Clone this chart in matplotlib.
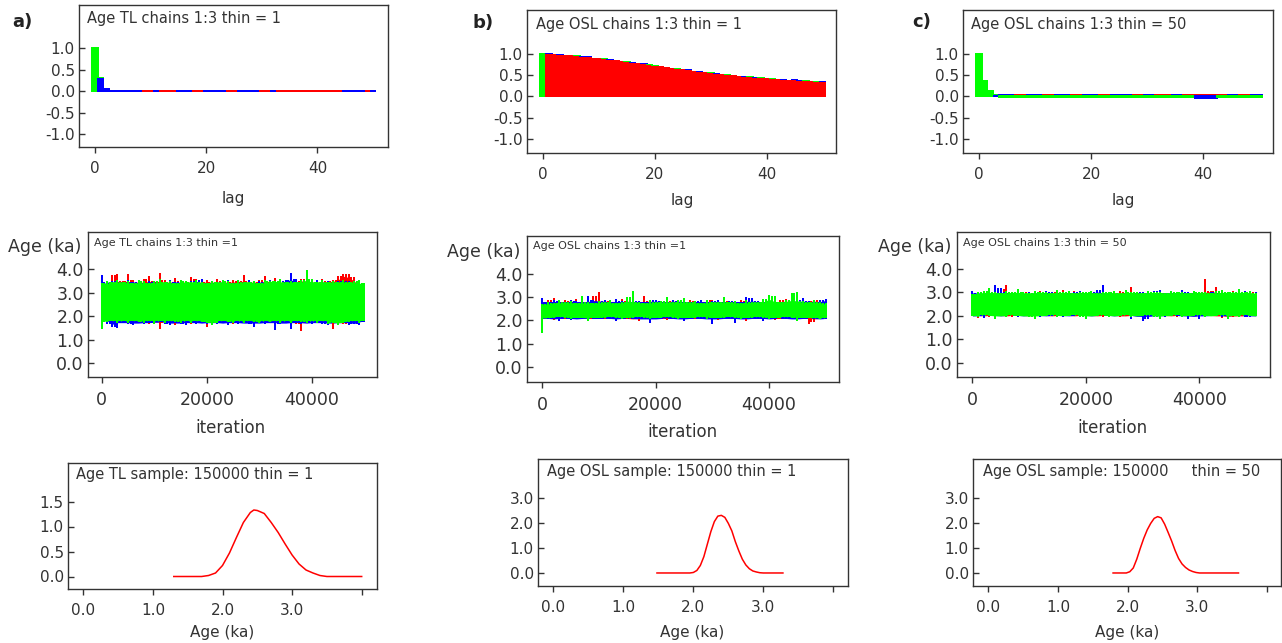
import numpy as np
import matplotlib
matplotlib.use("Agg")
import matplotlib.pyplot as plt

plt.rcParams['font.family'] = 'DejaVu Sans'

W, H = 1282, 643
RED, BLUE, GREEN = "#FF0000", "#0000FF", "#00FF00"
INK = "#333333"

# ── autocorrelation (lags 0..50) ─────────────────────────────────────────────
LAGS = list(range(51))

ACF_A_RED = ([1.0, 0.29, 0.045] + [0.0] * 6 + [-0.01] * 2 + [0.0] + [-0.01] * 3
             + [0.0] * 3 + [-0.01] * 2 + [0.0] * 4 + [-0.01] * 2 + [0.0] * 4
             + [-0.01] * 2 + [0.0] + [-0.01] * 12 + [0.0] * 4 + [-0.01] + [0.0])
ACF_A_BLUE = ([1.0, 0.27, 0.04] + [-0.01] * 6 + [0.0] * 2 + [-0.01] + [0.0] * 3
              + [-0.01] * 3 + [0.0] * 2 + [-0.01] * 4 + [0.0] * 2 + [-0.01] * 4
              + [0.0] * 2 + [-0.01] + [0.0] * 12 + [-0.01] * 4 + [0.0] + [-0.01])
ACF_A_GREEN = [1.0, 0.30, 0.05] + [0.003] * 48

ACF_B_RED = [1.0, 0.98, 0.97, 0.96, 0.95, 0.94, 0.93, 0.91, 0.90, 0.88, 0.87,
             0.85, 0.84, 0.82, 0.81, 0.79, 0.77, 0.75, 0.73, 0.71, 0.69,
             0.68, 0.66, 0.64, 0.62, 0.61, 0.59, 0.57, 0.56, 0.54, 0.53,
             0.51, 0.50, 0.48, 0.47, 0.45, 0.44, 0.43, 0.42, 0.41, 0.40,
             0.39, 0.38, 0.37, 0.36, 0.36, 0.35, 0.34, 0.33, 0.32, 0.31]
ACF_B_BLUE = [1.0, 0.985, 0.975, 0.965, 0.955, 0.945, 0.935, 0.915, 0.92, 0.885, 0.875,
              0.855, 0.845, 0.84, 0.815, 0.795, 0.775, 0.755, 0.75, 0.715, 0.695,
              0.685, 0.665, 0.645, 0.625, 0.615, 0.61, 0.575, 0.565, 0.545, 0.535,
              0.515, 0.505, 0.485, 0.475, 0.455, 0.445, 0.435, 0.425, 0.415, 0.405,
              0.41, 0.385, 0.375, 0.365, 0.38, 0.355, 0.345, 0.335, 0.325, 0.33]
ACF_B_GREEN = [1.0, 0.988, 0.978, 0.968, 0.958, 0.948, 0.938, 0.918, 0.908, 0.888, 0.89,
               0.87, 0.848, 0.828, 0.818, 0.81, 0.79, 0.758, 0.738, 0.73, 0.71,
               0.688, 0.668, 0.648, 0.64, 0.63, 0.598, 0.578, 0.58, 0.56, 0.55,
               0.518, 0.508, 0.50, 0.49, 0.458, 0.46, 0.45, 0.44, 0.43, 0.408,
               0.398, 0.388, 0.378, 0.368, 0.368, 0.37, 0.36, 0.35, 0.328, 0.318]

ACF_C_GREEN = [1.0, 0.37, 0.12, 0.022] + [-0.02] * 47
ACF_C_BLUE = ([1.0, 0.37, 0.12, 0.02] + [0.035] * 3 + [0.04] * 2 + [0.035] * 3
              + [0.04] * 2 + [0.035] * 3 + [0.04] * 2 + [0.035] * 3 + [0.04] * 2
              + [0.035] * 4 + [0.04] * 2 + [0.035] * 2 + [0.04] * 3 + [0.035] * 2
              + [0.04] * 2 + [-0.03] * 4 + [0.04] * 2 + [0.035] * 2 + [0.04] * 2
              + [0.035] * 2)
ACF_C_RED = ([1.0, 0.37, 0.12, 0.024] + [0.04] * 3 + [0.035] * 2 + [0.04] * 3
             + [0.035] * 2 + [0.04] * 3 + [0.035] * 2 + [0.04] * 3 + [0.035] * 2
             + [0.04] * 4 + [0.035] * 2 + [0.04] * 2 + [0.035] * 3 + [0.04] * 2
             + [0.035] * 2 + [0.04] * 4 + [0.035] * 2 + [0.04] * 2 + [0.035] * 2
             + [0.04] * 2)

# ── trace envelopes, sampled every 1000 iterations (0..50000) ────────────────
ITER = [k * 1000 for k in range(51)]

TR_A_G_UP = [3.40, 3.50, 3.45, 3.52, 3.45, 3.50, 3.42, 3.52, 3.48, 3.42,
             3.50, 3.60, 3.45, 3.50, 3.42, 3.52, 3.48, 3.45, 3.52, 3.46,
             3.42, 3.50, 3.45, 3.52, 3.48, 3.42, 3.52, 3.46, 3.45, 3.50,
             3.42, 3.52, 3.48, 3.50, 3.58, 3.45, 3.50, 3.46, 3.52, 3.95,
             3.58, 3.46, 3.52, 3.45, 3.50, 3.46, 3.52, 3.45, 3.48, 3.52, 3.40]
TR_A_G_LO = [1.45, 1.75, 1.80, 1.72, 1.78, 1.70, 1.80, 1.75, 1.72, 1.80,
             1.68, 1.78, 1.72, 1.80, 1.75, 1.70, 1.78, 1.72, 1.80, 1.75,
             1.72, 1.62, 1.70, 1.80, 1.75, 1.72, 1.78, 1.70, 1.80, 1.75,
             1.72, 1.78, 1.75, 1.80, 1.70, 1.78, 1.72, 1.80, 1.75, 1.70,
             1.78, 1.72, 1.80, 1.66, 1.72, 1.60, 1.70, 1.75, 1.80, 1.72, 1.78]
TR_A_R_UP = [3.30, 3.45, 3.75, 3.80, 3.48, 3.80, 3.55, 3.45, 3.58, 3.70,
             3.48, 3.85, 3.55, 3.45, 3.62, 3.50, 3.45, 3.65, 3.60, 3.45,
             3.55, 3.45, 3.58, 3.50, 3.45, 3.55, 3.48, 3.75, 3.50, 3.45,
             3.55, 3.70, 3.48, 3.62, 3.45, 3.55, 3.45, 3.50, 3.58, 3.75,
             3.50, 3.45, 3.58, 3.48, 3.55, 3.70, 3.78, 3.80, 3.65, 3.50, 3.30]
TR_A_R_LO = [1.85, 1.72, 1.80, 1.68, 1.75, 1.65, 1.78, 1.70, 1.75, 1.68,
             1.75, 1.45, 1.70, 1.78, 1.60, 1.72, 1.80, 1.68, 1.75, 1.70,
             1.55, 1.75, 1.68, 1.78, 1.72, 1.66, 1.75, 1.70, 1.78, 1.68,
             1.75, 1.70, 1.78, 1.66, 1.75, 1.70, 1.78, 1.68, 1.35, 1.72,
             1.68, 1.78, 1.70, 1.75, 1.45, 1.72, 1.68, 1.60, 1.75, 1.70, 1.78]
TR_A_B_UP = [3.75, 3.45, 3.50, 3.55, 3.45, 3.52, 3.45, 3.50, 3.42, 3.48,
             3.45, 3.50, 3.42, 3.52, 3.45, 3.50, 3.42, 3.48, 3.52, 3.58,
             3.42, 3.50, 3.45, 3.48, 3.52, 3.42, 3.50, 3.45, 3.52, 3.42,
             3.50, 3.45, 3.52, 3.42, 3.50, 3.55, 3.85, 3.60, 3.45, 3.50,
             3.42, 3.52, 3.45, 3.50, 3.42, 3.48, 3.52, 3.50, 3.42, 3.55, 3.35]
TR_A_B_LO = [1.80, 1.65, 1.55, 1.50, 1.72, 1.66, 1.60, 1.70, 1.65, 1.72,
             1.66, 1.74, 1.68, 1.62, 1.70, 1.66, 1.60, 1.72, 1.66, 1.70,
             1.65, 1.72, 1.66, 1.70, 1.60, 1.72, 1.66, 1.70, 1.68, 1.55,
             1.70, 1.66, 1.72, 1.40, 1.68, 1.70, 1.45, 1.72, 1.66, 1.70,
             1.66, 1.72, 1.68, 1.60, 1.70, 1.66, 1.72, 1.60, 1.68, 1.62, 1.75]

TR_B_G_UP = [2.70, 2.80, 2.75, 2.85, 2.78, 2.82, 2.75, 3.05, 2.80, 2.75,
             2.82, 2.78, 2.85, 2.75, 2.80, 3.00, 3.24, 2.80, 2.75, 2.85,
             2.78, 2.82, 3.00, 2.78, 2.85, 2.95, 2.78, 2.82, 2.75, 2.85,
             2.78, 2.80, 3.00, 2.78, 2.82, 2.75, 2.85, 2.80, 2.78, 2.90,
             3.10, 3.05, 2.80, 2.85, 3.15, 3.20, 2.82, 2.78, 2.85, 2.80, 2.75]
TR_B_G_LO = [1.45, 2.10, 2.08, 2.15, 2.10, 2.05, 2.12, 2.08, 1.95, 2.10,
             2.12, 2.08, 2.15, 2.10, 2.05, 2.12, 2.08, 2.15, 2.10, 2.05,
             2.12, 2.08, 2.15, 2.10, 2.05, 2.12, 2.08, 2.10, 2.15, 2.05,
             2.10, 2.12, 2.08, 2.15, 2.10, 2.05, 2.12, 2.08, 2.15, 2.10,
             2.05, 2.12, 2.08, 2.15, 2.10, 1.98, 2.12, 2.08, 2.10, 2.05, 2.10]
TR_B_R_UP = [2.80, 2.85, 2.95, 2.80, 2.88, 2.82, 2.90, 2.80, 2.85, 3.05,
             3.22, 2.82, 2.88, 2.80, 2.90, 2.82, 2.85, 2.80, 3.05, 2.82,
             2.85, 2.80, 2.90, 2.82, 2.85, 2.80, 2.86, 2.82, 2.80, 2.85,
             2.88, 2.80, 2.85, 2.82, 2.80, 2.86, 2.82, 2.95, 2.80, 2.85,
             2.82, 2.80, 2.86, 2.90, 2.82, 2.80, 2.85, 2.82, 2.85, 2.85, 2.80]
TR_B_R_LO = [2.10, 2.05, 2.00, 2.08, 2.04, 2.10, 2.05, 2.08, 2.02, 2.06,
             2.08, 2.04, 2.10, 2.05, 2.08, 2.04, 2.06, 1.98, 2.08, 2.05,
             2.10, 2.04, 2.00, 2.08, 2.05, 2.06, 2.10, 2.04, 2.08, 2.05,
             2.08, 2.02, 2.06, 2.10, 2.04, 2.08, 1.95, 2.06, 2.08, 2.04,
             2.10, 2.00, 2.06, 2.08, 2.04, 2.06, 2.08, 1.85, 1.92, 2.06, 2.08]
TR_B_B_UP = [2.95, 2.80, 2.85, 2.82, 2.80, 2.86, 2.82, 2.80, 3.05, 2.85,
             2.82, 2.86, 2.80, 2.92, 2.84, 2.80, 2.86, 2.82, 2.80, 2.85,
             2.88, 2.82, 2.80, 2.86, 2.82, 2.95, 2.80, 2.84, 2.85, 2.80,
             2.82, 2.86, 2.80, 2.84, 2.82, 2.80, 3.00, 2.95, 2.82, 2.80,
             2.86, 2.82, 2.80, 2.84, 2.82, 2.86, 2.95, 2.82, 2.80, 2.85, 2.90]
TR_B_B_LO = [2.08, 2.04, 2.06, 1.95, 2.08, 2.00, 2.06, 2.04, 2.08, 2.05,
             2.06, 2.08, 2.04, 1.95, 2.06, 2.08, 2.04, 2.06, 2.05, 1.90,
             2.06, 2.04, 2.08, 2.05, 2.06, 1.95, 2.04, 2.08, 2.05, 2.06,
             1.85, 2.04, 2.06, 2.08, 1.90, 2.05, 2.06, 2.04, 2.08, 1.98,
             2.06, 2.04, 2.08, 2.05, 2.06, 2.00, 2.04, 2.08, 2.06, 2.04, 2.05]

TR_C_G_UP = [2.95, 3.00, 3.05, 3.20, 3.00, 2.98, 3.05, 3.00, 3.15, 3.02,
             2.98, 3.04, 3.00, 3.02, 2.98, 3.10, 3.00, 3.04, 2.98, 3.02,
             3.00, 3.05, 2.98, 3.02, 3.00, 3.04, 2.98, 3.12, 3.00, 3.02,
             2.98, 3.04, 3.00, 3.02, 2.98, 3.05, 3.00, 3.02, 2.98, 3.04,
             3.00, 3.02, 2.98, 3.04, 3.10, 3.00, 3.02, 3.15, 3.00, 3.04, 2.98]
TR_C_G_LO = [2.00, 1.97, 2.02, 1.98, 1.88, 2.00, 1.97, 2.02, 1.98, 2.00,
             1.97, 1.88, 2.00, 1.98, 2.02, 1.97, 2.00, 1.98, 2.02, 1.97,
             1.88, 2.00, 1.98, 2.02, 1.97, 2.00, 1.98, 2.02, 1.97, 2.00,
             1.98, 2.02, 1.97, 1.88, 2.00, 1.98, 2.02, 1.97, 2.00, 1.98,
             2.02, 1.97, 2.00, 1.98, 2.02, 1.88, 2.00, 1.97, 2.02, 1.98, 2.00]
TR_C_R_UP = [2.95, 3.00, 2.96, 3.02, 2.98, 3.15, 3.30, 3.00, 2.96, 3.02,
             3.00, 2.96, 3.05, 2.98, 3.00, 3.02, 3.10, 2.98, 3.04, 3.00,
             2.98, 3.05, 3.00, 2.96, 3.02, 2.98, 3.04, 3.00, 3.25, 2.98,
             3.02, 2.96, 3.04, 3.00, 2.98, 3.02, 2.96, 3.04, 2.98, 3.02,
             3.00, 3.55, 3.04, 3.25, 3.00, 2.98, 3.04, 3.00, 2.98, 3.05, 3.00]
TR_C_R_LO = [2.02, 1.90, 2.00, 1.97, 2.02, 1.98, 2.00, 1.96, 2.02, 1.98,
             2.00, 1.97, 2.02, 1.98, 2.00, 1.96, 2.02, 1.98, 2.00, 1.97,
             2.02, 1.98, 2.00, 1.96, 2.02, 1.98, 1.94, 2.00, 1.97, 2.02,
             1.98, 2.00, 1.96, 2.02, 1.98, 2.00, 1.97, 2.02, 1.98, 2.00,
             1.96, 2.02, 1.98, 2.00, 1.90, 1.98, 1.94, 2.00, 1.96, 1.98, 2.02]
TR_C_B_UP = [3.05, 2.98, 3.02, 2.96, 3.30, 3.20, 3.00, 2.98, 3.02, 2.96,
             3.02, 2.98, 3.00, 3.04, 3.00, 2.96, 3.02, 2.98, 3.00, 3.04,
             2.98, 3.02, 3.10, 3.30, 2.98, 3.02, 2.96, 3.04, 2.98, 3.00,
             3.02, 2.98, 3.04, 3.10, 2.98, 3.02, 3.00, 3.10, 3.02, 2.98,
             3.02, 2.96, 3.00, 3.04, 2.98, 3.02, 3.00, 2.98, 3.04, 2.95, 3.00]
TR_C_B_LO = [1.98, 2.00, 1.90, 2.02, 1.96, 2.00, 1.98, 2.02, 1.97, 2.00,
             1.98, 2.02, 1.94, 2.00, 1.98, 2.02, 1.97, 2.00, 1.98, 2.02,
             1.97, 2.00, 1.98, 2.02, 1.94, 2.00, 1.98, 2.02, 1.85, 1.98,
             1.80, 1.85, 1.98, 2.00, 1.97, 2.02, 1.98, 2.00, 1.85, 1.98,
             1.85, 2.00, 1.98, 2.02, 1.97, 2.00, 1.98, 2.02, 1.97, 1.95, 2.00]

# ── posterior densities ──────────────────────────────────────────────────────
DENS_A_X = [1.30, 1.70, 1.80, 1.90, 2.00, 2.10, 2.20, 2.30, 2.40, 2.45, 2.50,
            2.60, 2.70, 2.80, 2.90, 3.00, 3.10, 3.20, 3.30, 3.40, 3.50, 4.00]
DENS_A_Y = [0.0, 0.0, 0.02, 0.07, 0.22, 0.47, 0.78, 1.08, 1.28, 1.33, 1.32,
            1.26, 1.08, 0.88, 0.65, 0.43, 0.25, 0.13, 0.07, 0.02, 0.0, 0.0]
DENS_B_X = [1.48, 1.95, 2.00, 2.05, 2.10, 2.15, 2.20, 2.25, 2.30, 2.35, 2.40, 2.45,
            2.50, 2.55, 2.60, 2.65, 2.70, 2.75, 2.80, 2.85, 2.90, 2.95, 3.00, 3.28]
DENS_B_Y = [0.0, 0.0, 0.02, 0.10, 0.30, 0.65, 1.15, 1.65, 2.05, 2.27, 2.30, 2.22,
            1.98, 1.68, 1.25, 0.88, 0.55, 0.32, 0.17, 0.08, 0.04, 0.01, 0.0, 0.0]
DENS_C_X = [1.79, 1.98, 2.03, 2.08, 2.13, 2.18, 2.23, 2.28, 2.33, 2.38, 2.43, 2.48,
            2.53, 2.58, 2.63, 2.68, 2.73, 2.78, 2.83, 2.88, 2.93, 2.98, 3.03, 3.59]
DENS_C_Y = [0.0, 0.0, 0.05, 0.20, 0.55, 0.98, 1.38, 1.72, 1.98, 2.18, 2.25, 2.20,
            1.95, 1.62, 1.28, 0.90, 0.58, 0.36, 0.22, 0.12, 0.06, 0.02, 0.0, 0.0]


fig = plt.figure(figsize=(W / 100, H / 100), dpi=100)
fig.patch.set_facecolor("white")


def px_axes(x0, y0, x1, y1):
    return fig.add_axes([x0 / W, 1 - y1 / H, (x1 - x0) / W, (y1 - y0) / H])


def px_text(x, y, s, **kw):
    kw.setdefault("color", INK)
    fig.text(x / W, 1 - y / H, s, **kw)


def style(ax, size=11):
    for sp in ax.spines.values():
        sp.set_color(INK)
        sp.set_linewidth(1.0)
    ax.tick_params(axis="y", direction="in", length=4.5, width=1, color=INK,
                   labelcolor=INK, labelsize=size, pad=3)
    ax.tick_params(axis="x", direction="out", length=4, width=1, color=INK,
                   labelcolor=INK, labelsize=size, pad=6)


def set_ticks(ax, xt, xl, yt, yl):
    ax.set_xticks(xt)
    ax.set_xticklabels(xl)
    ax.set_yticks(yt)
    ax.set_yticklabels(yl)


def draw_acf(ax, red, blue, green):
    chains = [(red, RED), (blue, BLUE), (green, GREEN)]
    for k, lag in enumerate(LAGS):
        # tallest bar first so every chain's excess stays visible
        order = sorted(range(3), key=lambda c: -chains[c][0][k])
        for c in order:
            vals, col = chains[c]
            ax.bar(lag, vals[k], width=1.0, color=col, edgecolor=col,
                   linewidth=1.2, antialiased=False)


def draw_trace(ax, env):
    x = np.array(ITER)
    for lo, hi, col in env:
        lo, hi = np.array(lo), np.array(hi)
        # solid core of the chain, then each sample's excursion as a thin spike
        core_hi = np.minimum(hi, np.minimum(np.roll(hi, 1), np.roll(hi, -1)))
        core_lo = np.maximum(lo, np.maximum(np.roll(lo, 1), np.roll(lo, -1)))
        ax.fill_between(x, core_lo, core_hi, color=col, linewidth=0)
        ax.vlines(x, lo, hi, color=col, linewidth=1.3, antialiased=False)
        ax.vlines(x[:-1] + 500, np.maximum(lo[:-1], lo[1:]),
                  np.minimum(hi[:-1], hi[1:]), color=col, linewidth=1.3,
                  antialiased=False)


# ── row 1: autocorrelation ───────────────────────────────────────────────────
acf_boxes = [(79, 5, 388, 147, (-2.9, 52.7), (-1.30, 2.0)),
             (527, 10, 836, 153, (-2.9, 52.4), (-1.33, 2.03)),
             (963, 10, 1273, 153, (-2.86, 52.5), (-1.33, 2.03))]
acf_data = [(ACF_A_RED, ACF_A_BLUE, ACF_A_GREEN),
            (ACF_B_RED, ACF_B_BLUE, ACF_B_GREEN),
            (ACF_C_RED, ACF_C_BLUE, ACF_C_GREEN)]
acf_yt = [-1.0, -0.5, 0.0, 0.5, 1.0]
for (x0, y0, x1, y1, xl, yl), data in zip(acf_boxes, acf_data):
    ax = px_axes(x0, y0, x1, y1)
    draw_acf(ax, *data)
    ax.set_xlim(*xl)
    ax.set_ylim(*yl)
    set_ticks(ax, [0, 20, 40], ["0", "20", "40"], acf_yt, [f"{v:.1f}" for v in acf_yt])
    style(ax, 11)

px_text(87, 19, "Age TL chains 1:3 thin = 1", fontsize=10.5, va="center")
px_text(536, 24, "Age OSL chains 1:3 thin = 1", fontsize=10.5, va="center")
px_text(971, 24, "Age OSL chains 1:3 thin = 50", fontsize=10.5, va="center")
for x, y in [(233, 198), (682, 200), (1123, 201)]:
    px_text(x, y, "lag", fontsize=11, ha="center", va="center")

for x, y, s in [(12, 22, "a)"), (472, 23, "b)"), (912, 22, "c)")]:
    px_text(x, y, s, fontsize=13, fontweight="bold", va="center", color="#222222")

# ── row 2: traces ────────────────────────────────────────────────────────────
trace_boxes = [(88, 232, 377, 377, (-2610, 52380), (-0.60, 5.59)),
               (527, 236, 839, 382, (-2718, 52355), (-0.64, 5.61)),
               (957, 232, 1270, 377, (-2718, 52480), (-0.60, 5.57))]
trace_data = [
    [(TR_A_R_LO, TR_A_R_UP, RED), (TR_A_B_LO, TR_A_B_UP, BLUE), (TR_A_G_LO, TR_A_G_UP, GREEN)],
    [(TR_B_R_LO, TR_B_R_UP, RED), (TR_B_B_LO, TR_B_B_UP, BLUE), (TR_B_G_LO, TR_B_G_UP, GREEN)],
    [(TR_C_R_LO, TR_C_R_UP, RED), (TR_C_B_LO, TR_C_B_UP, BLUE), (TR_C_G_LO, TR_C_G_UP, GREEN)],
]
trace_yt = [0.0, 1.0, 2.0, 3.0, 4.0]
for (x0, y0, x1, y1, xl, yl), env in zip(trace_boxes, trace_data):
    ax = px_axes(x0, y0, x1, y1)
    draw_trace(ax, env)
    ax.set_xlim(*xl)
    ax.set_ylim(*yl)
    set_ticks(ax, [0, 20000, 40000], ["0", "20000", "40000"],
              trace_yt, [f"{v:.1f}" for v in trace_yt])
    style(ax, 12.5)

px_text(94, 242.5, "Age TL chains 1:3 thin =1", fontsize=8, va="center")
px_text(533, 246, "Age OSL chains 1:3 thin =1", fontsize=8, va="center")
px_text(963, 242.5, "Age OSL chains 1:3 thin = 50", fontsize=8, va="center")
for x, y in [(8, 247), (447, 252), (878, 247.5)]:
    px_text(x, y, "Age (ka)", fontsize=12.5, va="center")
for x, y in [(230, 428), (682, 432), (1112, 428)]:
    px_text(x, y, "iteration", fontsize=12, ha="center", va="center")

# ── row 3: densities ─────────────────────────────────────────────────────────
dens_boxes = [(68, 463, 377, 589, (-0.22, 4.22), (-0.25, 2.27)),
              (538, 459, 848, 586, (-0.22, 4.21), (-0.52, 4.55)),
              (973, 459, 1281, 586, (-0.22, 4.20), (-0.52, 4.55))]
dens_data = [(DENS_A_X, DENS_A_Y), (DENS_B_X, DENS_B_Y), (DENS_C_X, DENS_C_Y)]
dens_yt = [[0.0, 0.5, 1.0, 1.5], [0.0, 1.0, 2.0, 3.0], [0.0, 1.0, 2.0, 3.0]]
for (x0, y0, x1, y1, xl, yl), (dx, dy), yt in zip(dens_boxes, dens_data, dens_yt):
    ax = px_axes(x0, y0, x1, y1)
    ax.plot(dx, dy, color=RED, linewidth=1.1)
    ax.set_xlim(*xl)
    ax.set_ylim(*yl)
    set_ticks(ax, [0, 1, 2, 3, 4], ["0.0", "1.0", "2.0", "3.0", ""],
              yt, [f"{v:.1f}" for v in yt])
    style(ax, 11)

px_text(76, 475, "Age TL sample: 150000 thin = 1", fontsize=10.5, va="center")
px_text(547, 471.5, "Age OSL sample: 150000 thin = 1", fontsize=10.5, va="center")
px_text(983, 471.5, "Age OSL sample: 150000     thin = 50", fontsize=10.5, va="center")
for x, y in [(222, 633), (692, 632), (1127, 632)]:
    px_text(x, y, "Age (ka)", fontsize=11, ha="center", va="center")

fig.savefig("out.png", dpi=100, facecolor="white")
